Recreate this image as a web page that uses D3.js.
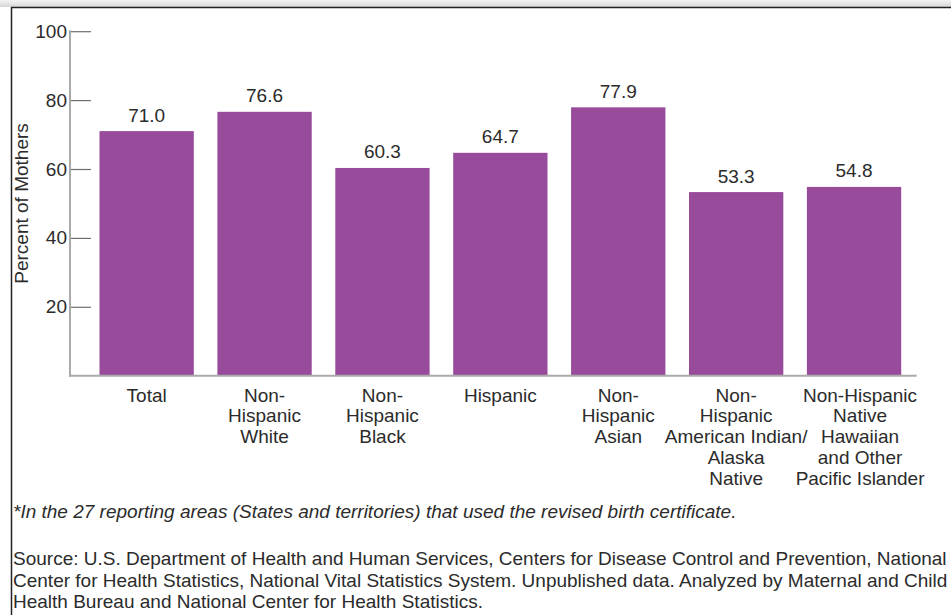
<!DOCTYPE html>
<html>
<head>
<meta charset="utf-8">
<script src="https://cdn.jsdelivr.net/npm/d3@7"></script>
<style>
  body { margin: 0; background: #fff; }
  svg text { font-family: Arial, "Liberation Sans", sans-serif; fill: #2b2b2b; }
</style>
</head>
<body>
<svg width="951" height="615"></svg>
<script>
var categories = [
  ["Total"],
  ["Non-", "Hispanic", "White"],
  ["Non-", "Hispanic", "Black"],
  ["Hispanic"],
  ["Non-", "Hispanic", "Asian"],
  ["Non-", "Hispanic", "American Indian/", "Alaska", "Native"],
  ["Non-Hispanic", "Native", "Hawaiian", "and Other", "Pacific Islander"]
];
var values = [71.0, 76.6, 60.3, 64.7, 77.9, 53.3, 54.8];
var yTicks = [20, 40, 60, 80, 100];
var footnote = "*In the 27 reporting areas (States and territories) that used the revised birth certificate.";
var sourceLines = [
  "Source: U.S. Department of Health and Human Services, Centers for Disease Control and Prevention, National",
  "Center for Health Statistics, National Vital Statistics System. Unpublished data. Analyzed by Maternal and Child",
  "Health Bureau and National Center for Health Statistics."
];

var fs = "19px";
var svg = d3.select("svg");

// frame: grey strip on top, dark edge top and left
var defs = svg.append("defs");
var grad = defs.append("linearGradient").attr("id", "topband")
  .attr("x1", 0).attr("y1", 0).attr("x2", 0).attr("y2", 1);
grad.append("stop").attr("offset", "0%").attr("stop-color", "#f4f4f4");
grad.append("stop").attr("offset", "100%").attr("stop-color", "#d6d6d6");
svg.append("rect").attr("x", 0).attr("y", 0).attr("width", 951).attr("height", 7)
  .attr("fill", "url(#topband)");
svg.append("line").attr("x1", 11).attr("x2", 951).attr("y1", 7.5).attr("y2", 7.5)
  .attr("stroke", "#222").attr("stroke-width", 1.5);
svg.append("line").attr("x1", 11.5).attr("x2", 11.5).attr("y1", 7).attr("y2", 615)
  .attr("stroke", "#222").attr("stroke-width", 1.5);

var x = d3.scaleBand()
  .domain(d3.range(values.length))
  .range([87.7, 913])
  .paddingInner(0.2)
  .paddingOuter(0.1);

var y = d3.scaleLinear()
  .domain([0, 100])
  .range([375.7, 31.2]);

// bars
svg.selectAll("rect.bar")
  .data(values)
  .enter().append("rect")
  .attr("class", "bar")
  .attr("x", function(d, i) { return x(i); })
  .attr("y", function(d) { return y(d); })
  .attr("width", x.bandwidth())
  .attr("height", function(d) { return y(0) - y(d); })
  .attr("fill", "#984b9b");

// value labels
svg.selectAll("text.val")
  .data(values)
  .enter().append("text")
  .attr("class", "val")
  .attr("x", function(d, i) { return x(i) + x.bandwidth() / 2; })
  .attr("y", function(d) { return y(d) - 9.5; })
  .attr("text-anchor", "middle")
  .attr("font-size", fs)
  .text(function(d) { return d.toFixed(1); });

// y axis
var yAxis = svg.append("g")
  .attr("transform", "translate(70,0)")
  .call(d3.axisLeft(y).tickValues(yTicks).tickSize(0).tickPadding(3));
yAxis.select(".domain").remove();
yAxis.selectAll("text").attr("font-size", fs).attr("fill", "#2b2b2b")
  .attr("font-family", "Arial, 'Liberation Sans', sans-serif");
yAxis.selectAll(".tick").append("line")
  .attr("x1", 0).attr("x2", 21)
  .attr("stroke", "#6f6f6f").attr("stroke-width", 1.2);

svg.append("line")
  .attr("x1", 70).attr("x2", 70)
  .attr("y1", y(100) - 1).attr("y2", y(0) + 1)
  .attr("stroke", "#aaa").attr("stroke-width", 2);
svg.append("line")
  .attr("x1", 69).attr("x2", 916.7)
  .attr("y1", y(0)).attr("y2", y(0))
  .attr("stroke", "#aaa").attr("stroke-width", 2);

svg.append("text")
  .attr("transform", "translate(28," + (y(0) + y(100)) / 2 + ") rotate(-90)")
  .attr("text-anchor", "middle")
  .attr("font-size", fs)
  .text("Percent of Mothers");

// category labels
var cat = svg.selectAll("text.cat")
  .data(categories)
  .enter().append("text")
  .attr("class", "cat")
  .attr("text-anchor", "middle")
  .attr("font-size", fs)
  .attr("x", function(d, i) { return x(i) + x.bandwidth() / 2 + (i === 6 ? 6 : 0); })
  .attr("y", 401.7);
cat.selectAll("tspan")
  .data(function(d) { return d; })
  .enter().append("tspan")
  .attr("x", function() { return d3.select(this.parentNode).attr("x"); })
  .attr("dy", function(d, j) { return j === 0 ? 0 : 20.7; })
  .text(function(d) { return d; });

// notes
svg.append("text")
  .attr("x", 13).attr("y", 518)
  .attr("font-size", fs)
  .attr("font-style", "italic")
  .text(footnote);

svg.selectAll("text.src")
  .data(sourceLines)
  .enter().append("text")
  .attr("class", "src")
  .attr("x", 13)
  .attr("y", function(d, i) { return 565 + i * 21.5; })
  .attr("font-size", fs)
  .text(function(d) { return d; });
</script>
</body>
</html>
